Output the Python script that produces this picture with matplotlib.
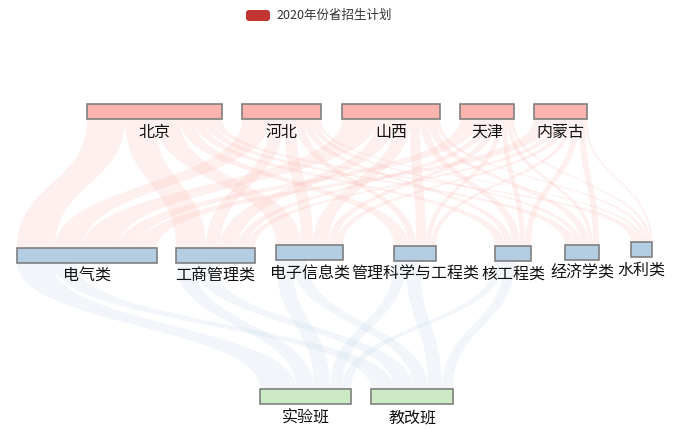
import matplotlib.pyplot as plt
from matplotlib.path import Path
from matplotlib.patches import PathPatch, Rectangle, FancyBboxPatch

plt.rcParams['font.family'] = ['Noto Sans CJK SC', 'DejaVu Sans']

# data
provinces = ['北京', '河北', '山西', '天津', '内蒙古']
majors = ['电气类', '工商管理类', '电子信息类', '管理科学与工程类', '核工程类', '经济学类', '水利类']
classes = ['实验班', '教改班']

# province -> major (rows: provinces, cols: majors)
prov_major = [
    [38, 30, 25, 14, 10, 10, 8],
    [28, 14, 12, 8, 7, 6, 4],
    [35, 18, 15, 10, 8, 8, 4],
    [20, 9, 8, 5, 5, 4, 3],
    [19, 8, 7, 5, 6, 6, 2],
]
# major -> class (rows: majors, cols: classes)
major_class = [
    [36, 23],
    [18, 19],
    [16, 15],
    [12, 14],
    [9, 11],
    [0, 0],
    [0, 0],
]

# layout (pixel space, like the echarts canvas)
W, H = 683, 448
px_per_unit = 1.0
node_h = 15
top_left = [87, 242, 342, 460, 534]
top_y = [104] * 5
mid_left = [17, 176, 276, 394, 495, 565, 631]
mid_y = [248, 248, 245, 246, 246, 245, 242]
bot_left = [260, 371]
bot_y = [389, 389]

colors = ['#fbb4ae', '#b3cde3', '#ccebc5']
link_alpha = [0.2, 0.16]

fig = plt.figure(figsize=(W / 100, H / 100), dpi=100)
ax = fig.add_axes([0, 0, 1, 1])
ax.set_xlim(0, W)
ax.set_ylim(H, 0)
ax.axis('off')


def band(x0, y0, x1, y1, w, color, alpha):
    ym = (y0 + y1) / 2
    verts = [(x0, y0), (x0, ym), (x1, ym), (x1, y1),
             (x1 + w, y1), (x1 + w, ym), (x0 + w, ym), (x0 + w, y0), (x0, y0)]
    codes = [Path.MOVETO, Path.CURVE4, Path.CURVE4, Path.CURVE4,
             Path.LINETO, Path.CURVE4, Path.CURVE4, Path.CURVE4, Path.CLOSEPOLY]
    ax.add_patch(PathPatch(Path(verts, codes), facecolor=color, edgecolor='none',
                           alpha=alpha, zorder=1))


def draw_links(matrix, s_left, s_y, t_left, t_y, color, alpha):
    n_s, n_t = len(matrix), len(matrix[0])
    s_off = list(s_left)
    # outgoing sorted by target x, incoming sorted by source x
    for i in range(n_s):
        for j in range(n_t):
            v = matrix[i][j]
            if v <= 0:
                continue
            w = v * px_per_unit
            t_pos = t_left[j] + sum(matrix[k][j] for k in range(i)) * px_per_unit
            band(s_off[i], s_y[i] + node_h, t_pos, t_y[j], w, color, alpha)
            s_off[i] += w


draw_links(prov_major, top_left, top_y, mid_left, mid_y, colors[0], link_alpha[0])
draw_links(major_class, mid_left, mid_y, bot_left, bot_y, colors[1], link_alpha[1])

top_vals = [sum(r) for r in prov_major]
mid_vals = [max(sum(prov_major[i][j] for i in range(len(provinces))), sum(major_class[j]))
            for j in range(len(majors))]
bot_vals = [sum(major_class[j][k] for j in range(len(majors))) for k in range(len(classes))]

for names, vals, lefts, ys, c in [(provinces, top_vals, top_left, top_y, colors[0]),
                                  (majors, mid_vals, mid_left, mid_y, colors[1]),
                                  (classes, bot_vals, bot_left, bot_y, colors[2])]:
    for name, v, x, y in zip(names, vals, lefts, ys):
        w = v * px_per_unit
        ax.add_patch(Rectangle((x, y), w, node_h, facecolor=c, edgecolor='#808080',
                               lw=1.2, zorder=3))
        ax.text(x + w / 2, y + node_h + 13.5, name, ha='center', va='center',
                fontsize=11.5, color='#111111', zorder=4)

# legend
ax.add_patch(FancyBboxPatch((246, 10), 24, 11, boxstyle='round,pad=0,rounding_size=3',
                            facecolor='#c23531', edgecolor='none', zorder=4))
ax.text(276, 15.5, '2020年份省招生计划', ha='left', va='center', fontsize=9,
        color='#333333', zorder=4)

fig.savefig('out.png', dpi=100)
